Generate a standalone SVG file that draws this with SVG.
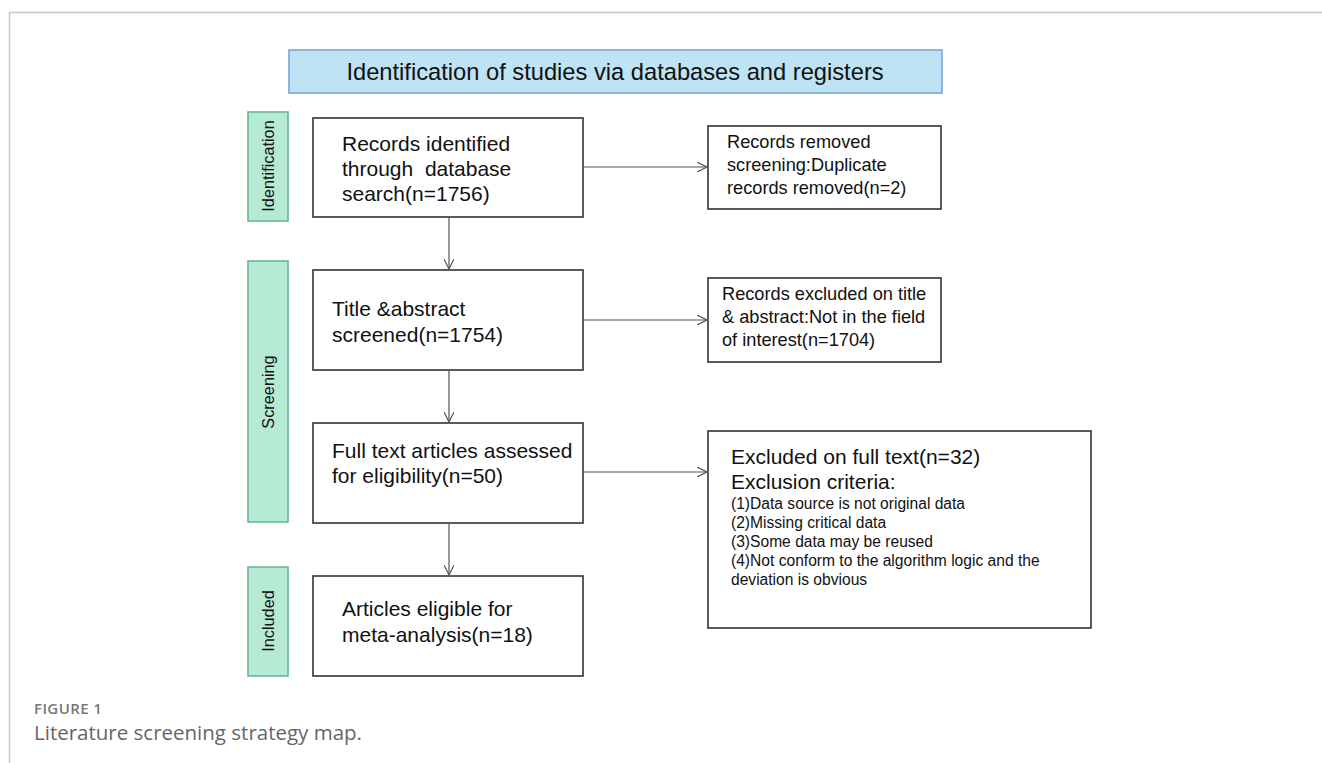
<svg xmlns="http://www.w3.org/2000/svg" width="1322" height="763" viewBox="0 0 1322 763">
<defs>
<style>
.box{fill:#fff;stroke:#333;stroke-width:1.6}
.side{fill:#b7ead5;stroke:#66b892;stroke-width:1.6}
.t{font-family:"Liberation Sans",Arial,sans-serif;fill:#111}
.big{font-size:21px}
.mid{font-size:18.2px}
.sm{font-size:15.6px}
.lab{font-family:"Liberation Sans",Arial,sans-serif;font-size:16.3px;fill:#111;text-anchor:middle}
.con{stroke:#555;stroke-width:1.2;fill:none}
</style>
<marker id="ah" viewBox="0 0 10 10" refX="10" refY="5" markerWidth="10" markerHeight="10" markerUnits="userSpaceOnUse" orient="auto">
<path d="M0,0 L10,5 L0,10" fill="none" stroke="#555" stroke-width="1.2"/>
</marker>
</defs>
<rect width="1322" height="763" fill="#fff"/>
<path d="M9.5,763 V12.5 H1322" fill="none" stroke="#c8c8c8" stroke-width="1.5"/>

<g id="title">
<rect x="289" y="50" width="653" height="43" fill="#bee3f5" stroke="#79a6d6" stroke-width="1.6"/>
<text class="t" x="615" y="80" font-size="23.7" text-anchor="middle">Identification of studies via databases and registers</text>
</g>

<g id="side-identification">
<rect class="side" x="248" y="112" width="40" height="109"/>
<text class="lab" transform="translate(274,166) rotate(-90)">Identification</text>
</g>
<g id="side-screening">
<rect class="side" x="248" y="261" width="40" height="261"/>
<text class="lab" transform="translate(274,392) rotate(-90)">Screening</text>
</g>
<g id="side-included">
<rect class="side" x="248" y="567" width="40" height="109"/>
<text class="lab" transform="translate(274,621) rotate(-90)">Included</text>
</g>

<g id="box1">
<rect class="box" x="313" y="118" width="270" height="99"/>
<text class="t big" x="342" y="151">Records identified</text>
<text class="t big" x="342" y="176" xml:space="preserve">through  database</text>
<text class="t big" x="342" y="201">search(n=1756)</text>
</g>
<g id="box2">
<rect class="box" x="313" y="270" width="270" height="100"/>
<text class="t big" x="332" y="316">Title &amp;abstract</text>
<text class="t big" x="332" y="342">screened(n=1754)</text>
</g>
<g id="box3">
<rect class="box" x="313" y="423" width="270" height="100"/>
<text class="t big" x="332" y="458">Full text articles assessed</text>
<text class="t big" x="332" y="483">for eligibility(n=50)</text>
</g>
<g id="box4">
<rect class="box" x="313" y="576" width="270" height="100"/>
<text class="t big" x="342" y="616">Articles eligible for</text>
<text class="t big" x="342" y="642">meta-analysis(n=18)</text>
</g>

<g id="rbox1">
<rect class="box" x="708" y="126" width="233" height="83"/>
<text class="t mid" x="727" y="148">Records removed</text>
<text class="t mid" x="727" y="171">screening:Duplicate</text>
<text class="t mid" x="727" y="194">records removed(n=2)</text>
</g>
<g id="rbox2">
<rect class="box" x="708" y="278" width="233" height="84"/>
<text class="t mid" x="722" y="300">Records excluded on title</text>
<text class="t mid" x="722" y="323">&amp; abstract:Not in the field</text>
<text class="t mid" x="722" y="346">of interest(n=1704)</text>
</g>
<g id="rbox3">
<rect class="box" x="708" y="431" width="383" height="197"/>
<text class="t big" x="731" y="464">Excluded on full text(n=32)</text>
<text class="t big" x="731" y="489">Exclusion criteria:</text>
<text class="t sm" x="731" y="509">(1)Data source is not original data</text>
<text class="t sm" x="731" y="528">(2)Missing critical data</text>
<text class="t sm" x="731" y="547">(3)Some data may be reused</text>
<text class="t sm" x="731" y="566">(4)Not conform to the algorithm logic and the</text>
<text class="t sm" x="731" y="585">deviation is obvious</text>
</g>

<g id="connectors">
<line class="con" x1="449" y1="217" x2="449" y2="269" marker-end="url(#ah)"/>
<line class="con" x1="449" y1="370" x2="449" y2="422" marker-end="url(#ah)"/>
<line class="con" x1="449" y1="523" x2="449" y2="575" marker-end="url(#ah)"/>
<line class="con" x1="583" y1="167" x2="707" y2="167" marker-end="url(#ah)"/>
<line class="con" x1="583" y1="320" x2="707" y2="320" marker-end="url(#ah)"/>
<line class="con" x1="583" y1="472" x2="707" y2="472" marker-end="url(#ah)"/>
</g>

<g id="caption">
<text x="34" y="714" font-family="'Open Sans',sans-serif" font-size="15" font-weight="600" letter-spacing="0.4" fill="#777">FIGURE 1</text>
<text x="34" y="740" font-family="'Open Sans',sans-serif" font-size="20.5" fill="#666">Literature screening strategy map.</text>
</g>
</svg>
